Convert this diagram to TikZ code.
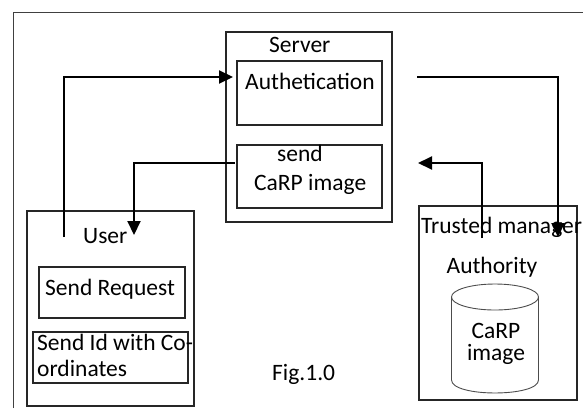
\documentclass[tikz,border=0pt]{standalone}
\usepackage{fontspec}
\setmainfont{Carlito}
\usetikzlibrary{arrows.meta}
\begin{document}
\begin{tikzpicture}[x=1pt,y=-1pt,
  frame/.style={draw=black!75, line width=1pt},
  box/.style={draw=black!85, line width=1.2pt, inner sep=0pt},
  lbl/.style={inner sep=0pt, anchor=base west, font=\fontsize{23.5}{28}\selectfont},
  lblc/.style={lbl, anchor=base},
  flow/.style={line width=2pt, -{Triangle[length=14pt,width=13pt]}},
  cyl/.style={draw=black!70, line width=0.9pt}
]
\useasboundingbox (0,0) rectangle (583,408);

% outer frame
\draw[frame] (13,408) -- (13,12) -- (583,12);

% server and its parts
\node[box, minimum width=166pt, minimum height=190pt] (server) at (309,127) {};
\node[box, minimum width=145pt, minimum height=64pt] (auth) at (309.5,93) {};
\node[box, minimum width=145pt, minimum height=63pt] (send) at (309.5,176.5) {};
\node[lbl] (serverlbl) at (269,52) {Server};
\node[lbl] (authlbl) at (245,89) {Authetication};
\node[lbl] (sendlbl) at (277,161) {send};
\node[lbl] (carplbl) at (254,190) {CaRP image};

% user and its parts
\node[box, minimum width=167pt, minimum height=195pt] (user) at (110.5,308.5) {};
\node[box, minimum width=146pt, minimum height=51pt] (req) at (112,292.5) {};
\node[box, minimum width=155pt, minimum height=51pt] (sendid) at (110.5,357.5) {};
\node[lbl] (userlbl) at (83,243) {User};
\node[lbl] (reqlbl) at (45,295) {Send Request};
\node[lbl] (idlbl1) at (37,350) {Send Id with Co-};
\node[lbl] (idlbl2) at (37,376) {ordinates};

% trusted manager with the image store
\node[box, minimum width=158pt, minimum height=194pt] (trusted) at (498,303) {};
\node[lbl] (trustedlbl) at (421,233) {Trusted manager};
\node[lblc] (authoritylbl) at (492,273) {Authority};
\draw[cyl] (495,297) ellipse [x radius=43.5, y radius=13];
\draw[cyl] (451.5,297) -- (451.5,380)
  .. controls (451.5,397.3) and (538.5,397.3) .. (538.5,380) -- (538.5,297);
\node[lblc] (dblbl1) at (496,338) {CaRP};
\node[lblc] (dblbl2) at (496,360) {image};

% caption
\node[lbl] (fig) at (272,380) {Fig.1.0};

% connectors
\coordinate (u1) at (64,237);
\coordinate (s1) at (233,77);
\coordinate (s2) at (235,163);
\coordinate (u2) at (134,235);
\coordinate (s3) at (417,77);
\coordinate (t3) at (558,237);
\coordinate (t4) at (482,238);
\coordinate (s4) at (418,163);
\draw[flow] (u1) |- (s1);
\draw[flow] (s2) -| (u2);
\draw[flow] (s3) -| (t3);
\draw[flow] (t4) |- (s4);
\end{tikzpicture}
\end{document}
